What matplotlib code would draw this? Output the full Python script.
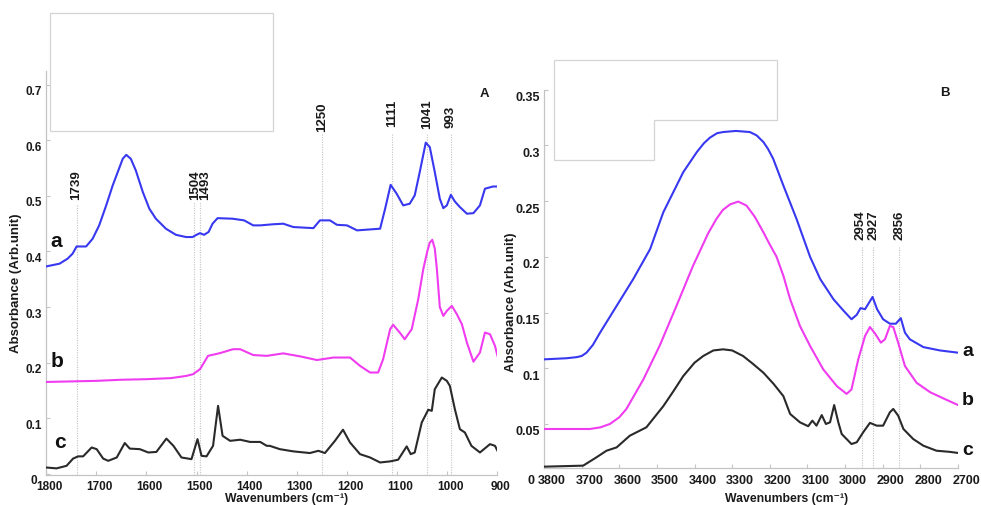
import matplotlib
matplotlib.use("Agg")
import matplotlib.pyplot as plt
from matplotlib.patches import Polygon
from matplotlib.transforms import ScaledTranslation

# ---------------- data: fingerprint region (panel A) ----------------
wn_a_left = [1800, 1773, 1757, 1747, 1739, 1720, 1707, 1694, 1680, 1667, 1657, 1647, 1640, 1631,
             1621, 1607, 1594, 1581, 1561, 1541, 1521, 1508, 1500, 1493, 1485, 1476, 1468, 1458,
             1428, 1405, 1387, 1373, 1347, 1327, 1307, 1267, 1254, 1234, 1220, 1200, 1180, 1134,
             1124, 1113, 1101, 1088, 1075, 1065, 1055, 1043, 1035, 1025, 1015, 1008, 1001, 993,
             985, 975, 961, 948, 935, 925, 909, 900]
abs_a_left = [0.373, 0.378, 0.387, 0.396, 0.409, 0.409, 0.423, 0.447, 0.483, 0.519, 0.543, 0.567,
              0.574, 0.567, 0.546, 0.507, 0.477, 0.459, 0.441, 0.430, 0.426, 0.426, 0.430, 0.433,
              0.430, 0.435, 0.450, 0.460, 0.459, 0.456, 0.447, 0.447, 0.449, 0.450, 0.444, 0.442,
              0.456, 0.456, 0.448, 0.447, 0.438, 0.441, 0.477, 0.520, 0.504, 0.483, 0.486, 0.501,
              0.543, 0.596, 0.588, 0.543, 0.495, 0.478, 0.483, 0.502, 0.490, 0.480, 0.468, 0.469,
              0.483, 0.513, 0.517, 0.517]

wn_b_left = [1800, 1700, 1650, 1600, 1550, 1520, 1507, 1493, 1477, 1453, 1427, 1413, 1387, 1360,
             1327, 1293, 1260, 1227, 1194, 1174, 1154, 1138, 1128, 1114, 1108, 1094, 1085, 1071,
             1058, 1048, 1040, 1035, 1030, 1025, 1021, 1015, 1008, 1001, 991, 981, 971, 961, 948,
             935, 925, 915, 905, 900]
abs_b_left = [0.165, 0.167, 0.169, 0.170, 0.172, 0.176, 0.179, 0.188, 0.212, 0.217, 0.224, 0.224,
              0.2135, 0.212, 0.2165, 0.211, 0.2045, 0.209, 0.209, 0.194, 0.182, 0.182, 0.206,
              0.260, 0.268, 0.253, 0.242, 0.260, 0.314, 0.368, 0.400, 0.416, 0.421, 0.405, 0.370,
              0.300, 0.284, 0.293, 0.302, 0.287, 0.269, 0.236, 0.2015, 0.218, 0.254, 0.251, 0.230,
              0.212]

wn_c_left = [1800, 1779, 1759, 1746, 1736, 1726, 1709, 1699, 1686, 1676, 1659, 1643, 1633, 1613,
             1596, 1580, 1560, 1546, 1530, 1510, 1498, 1490, 1480, 1467, 1457, 1448, 1433, 1413,
             1393, 1373, 1360, 1354, 1334, 1307, 1274, 1257, 1244, 1224, 1208, 1194, 1174, 1154,
             1134, 1114, 1098, 1081, 1073, 1065, 1051, 1038, 1031, 1025, 1011, 1001, 995, 985,
             975, 965, 952, 935, 915, 905, 900]
abs_c_left = [0.011, 0.0094, 0.014, 0.027, 0.031, 0.031, 0.047, 0.044, 0.027, 0.023, 0.029, 0.055,
              0.045, 0.044, 0.038, 0.039, 0.063, 0.050, 0.029, 0.026, 0.062, 0.032, 0.031, 0.050,
              0.122, 0.068, 0.059, 0.061, 0.057, 0.057, 0.050, 0.050, 0.044, 0.040, 0.037, 0.041,
              0.037, 0.059, 0.079, 0.056, 0.035, 0.029, 0.020, 0.022, 0.025, 0.049, 0.035, 0.038,
              0.092, 0.115, 0.113, 0.152, 0.173, 0.167, 0.158, 0.116, 0.080, 0.074, 0.050, 0.038,
              0.053, 0.050, 0.041]

peaks_left = [1739, 1504, 1493, 1250, 1111, 1041, 993]

# ---------------- data: O-H / C-H stretching region (panel B) ----------------
wn_a_right = [3800, 3740, 3713, 3700, 3687, 3670, 3651, 3607, 3563, 3518, 3483, 3430, 3394, 3375,
              3359, 3340, 3324, 3290, 3253, 3235, 3217, 3205, 3191, 3164, 3129, 3093, 3066, 3031,
              3005, 2983, 2969, 2959, 2947, 2938, 2927, 2915, 2899, 2881, 2865, 2852, 2841, 2828,
              2792, 2748, 2700]
abs_a_right = [0.108, 0.109, 0.110, 0.111, 0.114, 0.121, 0.132, 0.156, 0.180, 0.207, 0.240, 0.276,
               0.294, 0.302, 0.307, 0.311, 0.312, 0.313, 0.312, 0.309, 0.303, 0.297, 0.288, 0.264,
               0.234, 0.200, 0.180, 0.162, 0.152, 0.144, 0.148, 0.154, 0.153, 0.158, 0.164, 0.153,
               0.144, 0.140, 0.140, 0.145, 0.132, 0.126, 0.119, 0.116, 0.114]

wn_b_right = [3800, 3678, 3650, 3625, 3600, 3581, 3536, 3493, 3448, 3404, 3386, 3364, 3342, 3325,
              3306, 3284, 3262, 3240, 3217, 3200, 3182, 3164, 3146, 3120, 3093, 3058, 3022, 2996,
              2983, 2965, 2947, 2934, 2920, 2905, 2894, 2881, 2872, 2859, 2841, 2810, 2774, 2739,
              2700]
abs_b_right = [0.0455, 0.0455, 0.047, 0.050, 0.056, 0.0635, 0.090, 0.120, 0.156, 0.192, 0.205,
               0.221, 0.234, 0.242, 0.247, 0.2496, 0.246, 0.236, 0.222, 0.211, 0.200, 0.183, 0.162,
               0.138, 0.120, 0.099, 0.084, 0.077, 0.081, 0.108, 0.129, 0.137, 0.131, 0.123, 0.126,
               0.138, 0.137, 0.123, 0.102, 0.087, 0.0785, 0.073, 0.067]

wn_c_right = [3800, 3696, 3661, 3634, 3607, 3572, 3528, 3483, 3455, 3430, 3400, 3377, 3350, 3324,
              3300, 3271, 3245, 3217, 3190, 3164, 3146, 3120, 3098, 3087, 3076, 3062, 3051, 3040,
              3029, 3018, 3009, 2996, 2983, 2969, 2952, 2934, 2916, 2899, 2881, 2872, 2859, 2845,
              2819, 2792, 2757, 2722, 2700]
abs_c_right = [0.0117, 0.0126, 0.020, 0.026, 0.029, 0.0395, 0.047, 0.066, 0.080, 0.093, 0.105,
               0.111, 0.116, 0.117, 0.116, 0.111, 0.104, 0.096, 0.086, 0.075, 0.059, 0.0515, 0.048,
               0.053, 0.0485, 0.058, 0.050, 0.0515, 0.067, 0.0515, 0.041, 0.0365, 0.032, 0.0336,
               0.0425, 0.051, 0.0485, 0.0485, 0.0605, 0.0635, 0.0575, 0.0455, 0.0365, 0.0305,
               0.026, 0.025, 0.024]

peaks_right = [2954, 2927, 2856]

yticks_left = [0, 0.1, 0.2, 0.3, 0.4, 0.5, 0.6, 0.7]
ytick_labels_left = ["0", "0.1", "0.2", "0.3", "0.4", "0.5", "0.6", "0.7"]
xticks_left = [1800, 1700, 1600, 1500, 1400, 1300, 1200, 1100, 1000, 900]
yticks_right = [0.05, 0.1, 0.15, 0.2, 0.25, 0.3, 0.35]
ytick_labels_right = ["0.05", "0.1", "0.15", "0.2", "0.25", "0.3", "0.35"]
xticks_right = [3800, 3700, 3600, 3500, 3400, 3300, 3200, 3100, 3000, 2900, 2800, 2700]

# ---------------- styling ----------------
W, H = 981, 506
BLUE, MAGENTA, BLACK = "#3838f0", "#f03cf0", "#2a2a2a"
GRID = "#c4c4c4"
FONT = ["Liberation Sans", "DejaVu Sans"]
INK = "#1a1a1a"

fig = plt.figure(figsize=(W / 100, H / 100), dpi=100)


def fx(px):
    return px / W


def fy(py):
    return 1 - py / H


def shifted(lab, dx_px, dy_px):
    lab.set_transform(lab.get_transform() +
                      ScaledTranslation(dx_px / 100, dy_px / 100, fig.dpi_scale_trans))


def style_axes(ax, xticks, yticks, ylabels, size, ylab_shift, xlab_shift):
    for s in ("top", "right"):
        ax.spines[s].set_visible(False)
    for s in ("left", "bottom"):
        ax.spines[s].set_color(GRID)
        ax.spines[s].set_linewidth(0.9)
    ax.set_xticks(xticks)
    ax.set_xticklabels([str(t) for t in xticks])
    ax.set_yticks(yticks)
    ax.set_yticklabels(ylabels)
    ax.tick_params(direction="in", length=3, width=0.8, color=GRID, pad=3,
                   labelsize=size, labelcolor=INK)
    ax.tick_params(axis="x", pad=4)
    for lab in ax.get_xticklabels() + ax.get_yticklabels():
        lab.set_family(FONT)
        lab.set_fontweight("bold")
    for lab in ax.get_yticklabels():
        shifted(lab, 0, -ylab_shift)
    for lab in ax.get_xticklabels():
        shifted(lab, xlab_shift, 0)
    ax.patch.set_alpha(0)


# ---------------- panel A ----------------
axL = fig.add_axes([fx(46), fy(475.7), fx(497.5) - fx(46), fy(72) - fy(475.7)])
axL.set_xlim(1800, 900)
axL.set_ylim(-0.002, 0.725)
for wn, ab, c in ((wn_a_left, abs_a_left, BLUE), (wn_b_left, abs_b_left, MAGENTA),
                  (wn_c_left, abs_c_left, BLACK)):
    axL.plot(wn, ab, color=c, lw=1.5, solid_joinstyle="round", zorder=3)
style_axes(axL, xticks_left, yticks_left, ytick_labels_left, 8.5, 5, 3)
# the "0" sits just left of the first wavenumber label
shifted(axL.get_yticklabels()[0], -5, 0)

tops_left = {1739: 0.486, 1504: 0.489, 1493: 0.489, 1250: 0.612, 1111: 0.612, 1041: 0.612, 993: 0.612}
text_left = {1739: 0.494, 1504: 0.494, 1493: 0.494, 1250: 0.617, 1111: 0.626, 1041: 0.622, 993: 0.624}
shift_left = {1504: 0.5, 1493: 5.5}
for p in peaks_left:
    axL.vlines(p, axL.get_ylim()[0], tops_left[p], colors=GRID, lw=0.8,
               linestyles=(0, (1, 1.2)), zorder=1)
    dx = shift_left.get(p, 0)
    axL.text(p, text_left[p], str(p), rotation=90, ha="center", va="bottom",
             fontsize=9.5, fontweight="bold", family=FONT, color=INK,
             transform=axL.transData + ScaledTranslation(dx / 100, 0, fig.dpi_scale_trans))

# ---------------- panel B ----------------
axR = fig.add_axes([fx(544), fy(469), fx(958) - fx(544), fy(90.7) - fy(469)])
axR.set_xlim(3800, 2700)
axR.set_ylim(0.0105, 0.35)
for wn, ab, c in ((wn_a_right, abs_a_right, BLUE), (wn_b_right, abs_b_right, MAGENTA),
                  (wn_c_right, abs_c_right, BLACK)):
    axR.plot(wn, ab, color=c, lw=1.5, solid_joinstyle="round", zorder=3)
style_axes(axR, xticks_right, yticks_right, ytick_labels_right, 9, 6, 8)
axR.text(-0.022, 0.0, "0", transform=axR.get_yaxis_transform(), ha="right", va="center",
         fontsize=9, fontweight="bold", family=FONT, color=INK, clip_on=False)

shift_right = {2954: -1.5, 2927: 1.0}
for p in peaks_right:
    axR.vlines(p, axR.get_ylim()[0], 0.209, colors=GRID, lw=0.8,
               linestyles=(0, (1, 1.2)), zorder=1)
    dx = shift_right.get(p, 0)
    axR.text(p, 0.216, str(p), rotation=90, ha="center", va="bottom",
             fontsize=9.5, fontweight="bold", family=FONT, color=INK,
             transform=axR.transData + ScaledTranslation(dx / 100, 0, fig.dpi_scale_trans))

# ---------------- axis titles, panel letters, trace labels ----------------
for xpx, ypx in ((16, 283), (511, 302)):
    fig.text(fx(xpx), fy(ypx), "Absorbance (Arb.unit)", rotation=90, ha="center", va="center",
             fontsize=9.5, fontweight="bold", family=FONT, color=INK)
for xpx in (287, 787):
    fig.text(fx(xpx), fy(499), "Wavenumbers (cm\u207b\u00b9)", ha="center", va="center",
             fontsize=8.8, fontweight="bold", family=FONT, color=INK)

fig.text(fx(484), fy(94), "A", ha="center", va="center", fontsize=9.5, fontweight="bold",
         family=FONT, color=INK)
fig.text(fx(945), fy(93), "B", ha="center", va="center", fontsize=9.5, fontweight="bold",
         family=FONT, color=INK)

for lab, xpx, ypx in (("a", 56, 247), ("b", 57.5, 367), ("c", 60, 448)):
    fig.text(fx(xpx), fy(ypx), lab, ha="center", va="baseline", fontsize=15,
             fontweight="bold", family=FONT, color="#111111")
for lab, ypx in (("a", 356), ("b", 405), ("c", 455)):
    fig.text(fx(968), fy(ypx), lab, ha="center", va="baseline", fontsize=14,
             fontweight="bold", family=FONT, color="#111111")

# ---------------- blank inset frames above the spectra ----------------
box_left = [(50, 14), (273, 14), (273, 132), (50, 132)]
box_right = [(554, 61), (777, 61), (777, 121), (654, 121), (654, 161), (554, 161)]
for pts in (box_left, box_right):
    fig.add_artist(Polygon([(fx(x), fy(y)) for x, y in pts], closed=True,
                           transform=fig.transFigure, facecolor="white",
                           edgecolor="#d4d4d4", lw=0.9, zorder=5))

fig.savefig("out.png", dpi=100, facecolor="white")
